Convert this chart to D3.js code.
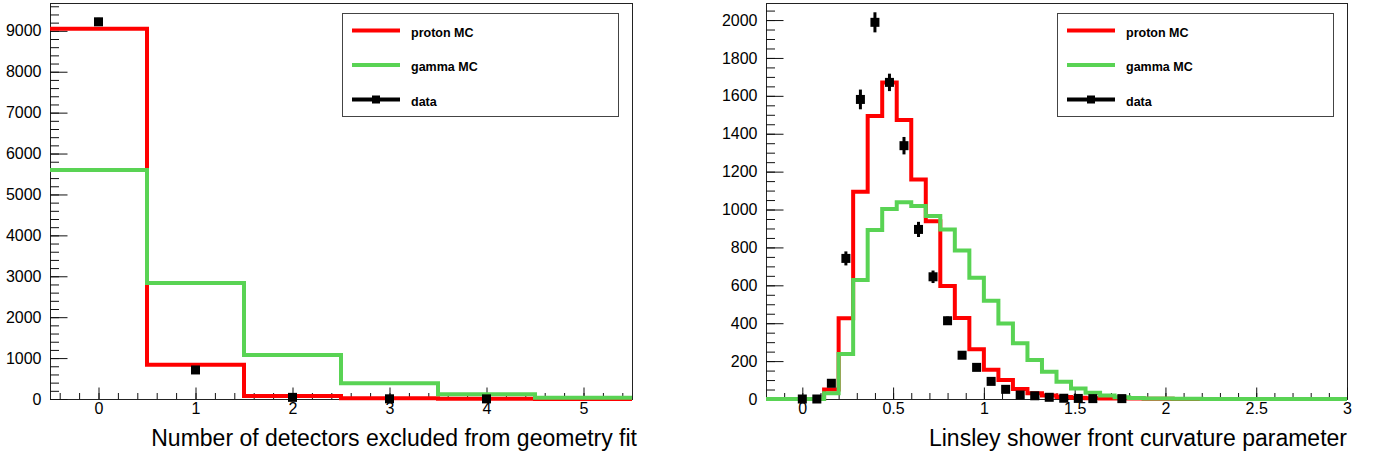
<!DOCTYPE html>
<html>
<head>
<meta charset="utf-8">
<script src="https://cdn.jsdelivr.net/npm/d3@7"></script>
<style>
    body { margin: 0; background: #fff; }
    svg { display: block; font-family: "Liberation Sans", Arial, Helvetica, sans-serif; }
    .tick text { font-size: 16px; fill: #000; }
    .tick line { stroke: #111; }
    .legend text { font-size: 12.5px; font-weight: bold; fill: #000; }
</style>
</head>
<body>
<script>
// left panel: number of excluded detectors (bins -0.5 .. 5.5)
var nExclEdges = [-0.5, 0.5, 1.5, 2.5, 3.5, 4.5, 5.5];
var nExclProton = [9050, 835, 73, 17, 8, 2];
var nExclGamma = [5600, 2835, 1076, 384, 115, 32];
var nExclDataX = [0, 1, 2, 3, 4];
var nExclDataY = [9220, 710, 40, 5, 3];
var nExclDataErr = [96, 27, 6, 2, 2];
var nExclYTicks = [0, 1000, 2000, 3000, 4000, 5000, 6000, 7000, 8000, 9000];
var nExclXTicks = [0, 1, 2, 3, 4, 5];

// right panel: Linsley curvature (bins of 0.08 from -0.2 to 3.0)
var curvEdges = [-0.2, -0.12, -0.04, 0.04, 0.12, 0.2, 0.28, 0.36, 0.44, 0.52, 0.6, 0.68, 0.76, 0.84,
    0.92, 1.0, 1.08, 1.16, 1.24, 1.32, 1.4, 1.48, 1.56, 1.64, 1.72, 1.8, 1.88, 1.96, 2.04, 2.12,
    2.2, 2.28, 2.36, 2.44, 2.52, 2.6, 2.68, 2.76, 2.84, 2.92, 3.0];
var curvProton = [0, 0, 0, 0, 50, 426, 1094, 1493, 1671, 1472, 1159, 938, 597, 427, 262, 155,
    100, 53, 30, 18, 10, 6, 4, 3, 2, 2, 1, 1, 0, 0, 0, 0, 0, 0, 0, 0, 0, 0, 0, 0];
var curvGamma = [0, 0, 0, 0, 30, 237, 628, 892, 1003, 1038, 1018, 966, 895, 784, 640, 519,
    399, 294, 206, 144, 91, 56, 33, 18, 9, 5, 3, 2, 1, 1, 0, 0, 0, 0, 0, 0, 0, 0, 0, 0];
var curvDataX = [0, 0.08, 0.16, 0.24, 0.32, 0.40, 0.48, 0.56, 0.64, 0.72, 0.80, 0.88, 0.96,
    1.04, 1.12, 1.20, 1.28, 1.36, 1.44, 1.52, 1.60, 1.76];
var curvDataY = [0, 0, 83, 742, 1581, 1988, 1671, 1337, 895, 645, 413, 231, 167,
    93, 51, 21, 17, 9, 4, 3, 2, 2];
var curvDataErr = [0, 0, 12, 37, 52, 53, 46, 46, 40, 33, 22, 16, 13, 10, 7, 5, 4, 3, 2, 2, 1.5, 1.5];
var curvYTicks = [0, 200, 400, 600, 800, 1000, 1200, 1400, 1600, 1800, 2000];
var curvXTicks = [0, 0.5, 1, 1.5, 2, 2.5, 3];

var legendNames = ['proton MC', 'gamma MC', 'data'];
var protonColor = '#ff0000';
var gammaColor = '#59d354';

var svg = d3.select('body')
    .append('svg')
    .attr('width', 1373)
    .attr('height', 458);

var drawPanel = function(p){
    var xScale = d3.scaleLinear().domain(p.xDomain).range([p.left, p.right]);
    var yScale = d3.scaleLinear().domain(p.yDomain).range([p.bottom, p.top]);
    var g = svg.append('g');

    //frame
    g.append('rect')
        .attr('x', p.left + 0.5).attr('y', p.top + 0.5)
        .attr('width', p.right - p.left).attr('height', p.bottom - p.top)
        .attr('fill', 'none').attr('stroke', '#222').attr('stroke-width', 1);

    //minor ticks (pointing into the frame)
    g.append('g')
        .attr('transform', 'translate(' + p.left + ',0)')
        .call(d3.axisLeft(yScale).tickValues(p.yMinor).tickSizeInner(-9).tickSizeOuter(0).tickFormat(''))
        .call(function(a){ a.select('.domain').remove(); });
    g.append('g')
        .attr('transform', 'translate(0,' + p.bottom + ')')
        .call(d3.axisBottom(xScale).tickValues(p.xMinor).tickSizeInner(-6).tickSizeOuter(0).tickFormat(''))
        .call(function(a){ a.select('.domain').remove(); });

    //major ticks + labels
    g.append('g')
        .attr('transform', 'translate(' + p.left + ',0)')
        .call(d3.axisLeft(yScale).tickValues(p.yTicks).tickSizeInner(-17.5).tickSizeOuter(0)
            .tickPadding(8.5).tickFormat(d3.format('d')))
        .call(function(a){ a.select('.domain').remove(); });
    g.append('g')
        .attr('transform', 'translate(0,' + p.bottom + ')')
        .call(d3.axisBottom(xScale).tickValues(p.xTicks).tickSizeInner(-11.5).tickSizeOuter(0)
            .tickPadding(4).tickFormat(d3.format('~g')))
        .call(function(a){ a.select('.domain').remove(); });

    //histograms
    var step = d3.line()
        .x(function(d){ return xScale(d[0]); })
        .y(function(d){ return yScale(d[1]); })
        .curve(d3.curveStepAfter);
    var toSteps = function(values){
        var pts = values.map(function(v, i){ return [p.edges[i], v]; });
        pts.push([p.edges[values.length], values[values.length - 1]]);
        return pts;
    };
    [[p.proton, protonColor], [p.gamma, gammaColor]].forEach(function(h){
        g.append('path')
            .attr('d', step(toSteps(h[0])))
            .attr('fill', 'none')
            .attr('stroke', h[1])
            .attr('stroke-width', 4);
    });

    //data points with error bars
    var pts = p.dataX.map(function(x, i){ return { x: x, y: p.dataY[i], e: p.dataErr[i] }; });
    g.selectAll('line.err')
        .data(pts)
        .enter()
        .append('line')
        .attr('class', 'err')
        .attr('x1', function(d){ return xScale(d.x); })
        .attr('x2', function(d){ return xScale(d.x); })
        .attr('y1', function(d){ return yScale(d.y - d.e); })
        .attr('y2', function(d){ return yScale(d.y + d.e); })
        .attr('stroke', '#000')
        .attr('stroke-width', 3);
    g.selectAll('rect.pt')
        .data(pts)
        .enter()
        .append('rect')
        .attr('class', 'pt')
        .attr('x', function(d){ return xScale(d.x) - 4.5; })
        .attr('y', function(d){ return yScale(d.y) - 4.5; })
        .attr('width', 9)
        .attr('height', 9)
        .attr('fill', '#000');

    //axis title
    g.append('text')
        .attr('x', p.titleX)
        .attr('y', 446)
        .attr('text-anchor', 'end')
        .attr('font-size', '23px')
        .attr('fill', '#000')
        .text(p.title);

    //legend
    var lg = g.append('g').attr('class', 'legend');
    lg.append('rect')
        .attr('x', p.legX + 0.5).attr('y', 13.5)
        .attr('width', 276).attr('height', 103)
        .attr('fill', '#fff').attr('stroke', '#444').attr('stroke-width', 1);
    var rowY = [30.5, 65, 99.5];
    var rowColor = [protonColor, gammaColor, '#000'];
    legendNames.forEach(function(name, i){
        lg.append('line')
            .attr('x1', p.legX + 10).attr('x2', p.legX + 58)
            .attr('y1', rowY[i]).attr('y2', rowY[i])
            .attr('stroke', rowColor[i]).attr('stroke-width', 4);
        if(i == 2){
            lg.append('rect')
                .attr('x', p.legX + 30).attr('y', rowY[i] - 4)
                .attr('width', 8).attr('height', 8)
                .attr('fill', '#000');
        }
        lg.append('text')
            .attr('x', p.legX + 69)
            .attr('y', rowY[i] + 6)
            .text(name);
    });
};

drawPanel({
    left: 50, right: 632, top: 3, bottom: 399,
    xDomain: [-0.5, 5.5], yDomain: [0, 9680],
    xTicks: nExclXTicks, yTicks: nExclYTicks,
    xMinor: d3.range(-0.4, 5.45, 0.2), yMinor: d3.range(0, 9650, 200),
    edges: nExclEdges, proton: nExclProton, gamma: nExclGamma,
    dataX: nExclDataX, dataY: nExclDataY, dataErr: nExclDataErr,
    title: 'Number of detectors excluded from geometry fit', titleX: 637,
    legX: 342
});

drawPanel({
    left: 766, right: 1347, top: 3, bottom: 399,
    xDomain: [-0.2, 3.0], yDomain: [0, 2090],
    xTicks: curvXTicks, yTicks: curvYTicks,
    xMinor: d3.range(-0.1, 2.95, 0.1), yMinor: d3.range(0, 2080, 50),
    edges: curvEdges, proton: curvProton, gamma: curvGamma,
    dataX: curvDataX, dataY: curvDataY, dataErr: curvDataErr,
    title: 'Linsley shower front curvature parameter', titleX: 1347,
    legX: 1057
});
</script>
</body>
</html>
